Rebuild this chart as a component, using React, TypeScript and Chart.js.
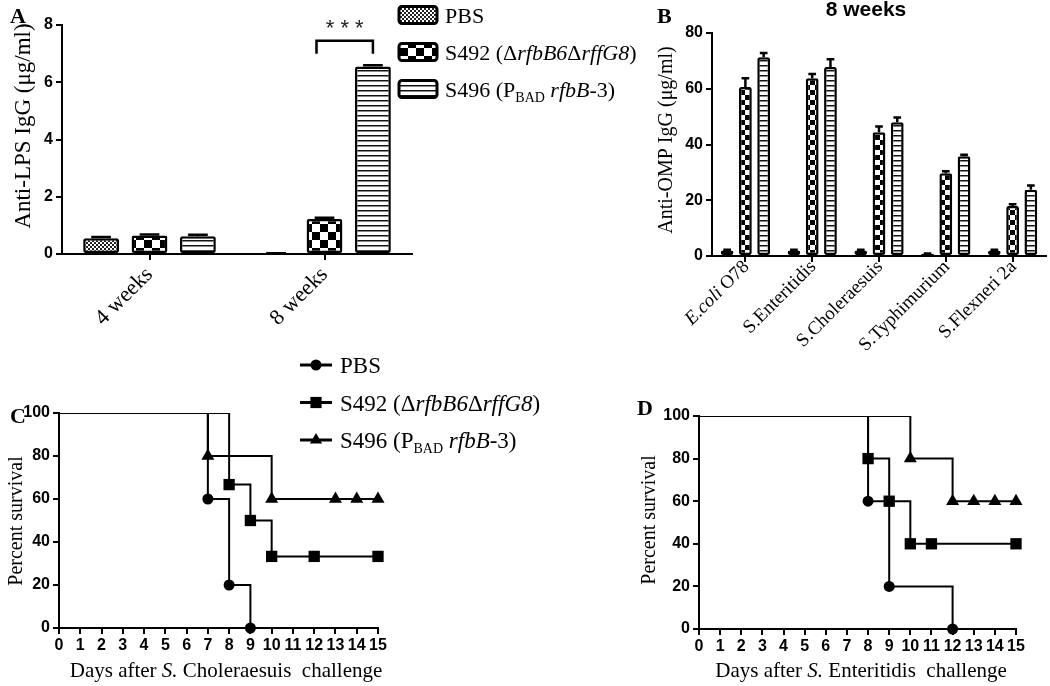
import React, { useEffect, useRef } from 'react';
import { Chart, registerables } from 'chart.js';
Chart.register(...registerables);

const SERIF = '"Liberation Serif", "Times New Roman", serif';
const SANS = '"Liberation Sans", Arial, sans-serif';

type Seg = { t: string; i?: boolean; sub?: boolean };

// ---------- Panel A: anti-LPS IgG ----------
const lpsCategories = ['4 weeks', '8 weeks'];
const lpsPBS = [0.55, 0.02];
const lpsS492 = [0.65, 1.22];
const lpsS496 = [0.62, 6.55];
const lpsPBSErr = [0.04, 0.01];
const lpsS492Err = [0.03, 0.05];
const lpsS496Err = [0.05, 0.04];
const lpsYTicks = { min: 0, max: 8, step: 2 };

// ---------- Panel B: anti-OMP IgG (8 weeks) ----------
const ompCategories = ['E.coli O78', 'S.Enteritidis', 'S.Choleraesuis', 'S.Typhimurium', 'S.Flexneri 2a'];
const ompPBS = [2, 2, 2, 0.8, 2];
const ompS492 = [60.6, 63.8, 44.4, 29.7, 17.9];
const ompS496 = [71.3, 67.8, 48.0, 35.8, 23.8];
const ompPBSErr = [0.2, 0.2, 0.2, 0.1, 0.2];
const ompS492Err = [3.2, 1.5, 2.1, 0.7, 0.7];
const ompS496Err = [1.5, 2.8, 1.7, 0.5, 1.5];
const ompYTicks = { min: 0, max: 80, step: 20 };

// ---------- Panel C: survival after S. Choleraesuis ----------
const cPbsDays = [0, 7, 8, 9];
const cPbsSurv = [100, 60, 20, 0];
const cS492Days = [0, 8, 9, 10, 12, 15];
const cS492Surv = [100, 66.7, 50, 33.3, 33.3, 33.3];
const cS496Days = [0, 7, 10, 13, 14, 15];
const cS496Surv = [100, 80, 60, 60, 60, 60];

// ---------- Panel D: survival after S. Enteritidis ----------
const dPbsDays = [0, 8, 9, 12];
const dPbsSurv = [100, 60, 20, 0];
const dS492Days = [0, 8, 9, 10, 11, 15];
const dS492Surv = [100, 80, 60, 40, 40, 40];
const dS496Days = [0, 10, 12, 13, 14, 15];
const dS496Surv = [100, 80, 60, 60, 60, 60];

const dayTicks = { min: 0, max: 15, step: 1 };
const survTicks = { min: 0, max: 100, step: 20 };

// ---------- Texts ----------
const legendSegs: Seg[][] = [
  [{ t: 'PBS' }],
  [{ t: 'S492 (Δ' }, { t: 'rfbB6', i: true }, { t: 'Δ' }, { t: 'rffG8', i: true }, { t: ')' }],
  [{ t: 'S496 (P' }, { t: 'BAD', sub: true }, { t: ' ' }, { t: 'rfbB', i: true }, { t: '-3)' }],
];
const seriesNames = ['PBS', 'S492 (ΔrfbB6ΔrffG8)', 'S496 (PBAD rfbB-3)'];
const lpsYTitle = 'Anti-LPS IgG (μg/ml)';
const ompYTitle = 'Anti-OMP IgG (μg/ml)';
const ompTitle = '8 weeks';
const survYTitle = 'Percent survival';
const cXTitle: Seg[] = [{ t: 'Days after ' }, { t: 'S.', i: true }, { t: ' Choleraesuis  challenge' }];
const dXTitle: Seg[] = [{ t: 'Days after ' }, { t: 'S.', i: true }, { t: ' Enteritidis  challenge' }];
const sigLabel = '* * *';

function labelSegs(label: string): Seg[] {
  if (label.startsWith('E.coli')) return [{ t: 'E.coli', i: true }, { t: label.slice(6) }];
  return [{ t: label }];
}

function drawRich(
  ctx: CanvasRenderingContext2D,
  segs: Seg[],
  x: number,
  y: number,
  size: number,
  align: 'left' | 'center' | 'right' = 'left',
  family = SERIF
) {
  const font = (s: Seg) => `${s.i ? 'italic ' : ''}${s.sub ? Math.round(size * 0.62) : size}px ${family}`;
  let w = 0;
  const widths = segs.map((s) => {
    ctx.font = font(s);
    const m = ctx.measureText(s.t).width;
    w += m;
    return m;
  });
  let cx = align === 'center' ? x - w / 2 : align === 'right' ? x - w : x;
  ctx.textAlign = 'left';
  ctx.textBaseline = 'alphabetic';
  ctx.fillStyle = '#000';
  segs.forEach((s, k) => {
    ctx.font = font(s);
    ctx.fillText(s.t, cx, s.sub ? y + size * 0.22 : y);
    cx += widths[k];
  });
}

function drawRotatedTitle(ctx: CanvasRenderingContext2D, text: string, cx: number, cy: number, size: number) {
  ctx.save();
  ctx.translate(cx, cy);
  ctx.rotate(-Math.PI / 2);
  drawRich(ctx, [{ t: text }], 0, size * 0.33, size, 'center');
  ctx.restore();
}

function drawLetter(ctx: CanvasRenderingContext2D, letter: string, x: number, baseline: number) {
  ctx.save();
  ctx.font = `bold 22px ${SERIF}`;
  ctx.fillStyle = '#000';
  ctx.textAlign = 'left';
  ctx.textBaseline = 'alphabetic';
  ctx.fillText(letter, x, baseline);
  ctx.restore();
}

function makePattern(ctx: CanvasRenderingContext2D, kind: string, s: number): CanvasPattern {
  const c = document.createElement('canvas');
  const g = c.getContext('2d')!;
  if (kind === 'fine') {
    c.width = 4;
    c.height = 4;
    g.fillStyle = '#fff';
    g.fillRect(0, 0, 4, 4);
    g.fillStyle = '#222';
    g.fillRect(0, 0, 2, 2);
    g.fillRect(2, 2, 2, 2);
  } else if (kind === 'check') {
    c.width = 2 * s;
    c.height = 2 * s;
    g.fillStyle = '#fff';
    g.fillRect(0, 0, 2 * s, 2 * s);
    g.fillStyle = '#000';
    g.fillRect(0, 0, s, s);
    g.fillRect(s, s, s, s);
  } else {
    c.width = 4;
    c.height = s;
    g.fillStyle = '#fff';
    g.fillRect(0, 0, 4, s);
    g.fillStyle = '#111';
    g.fillRect(0, 0, 4, 1);
    g.fillStyle = '#888';
    g.fillRect(0, 1, 4, 1);
  }
  return ctx.createPattern(c, 'repeat')!;
}

function drawErrors(chart: any, errs: number[][], capFrac: number) {
  const ctx: CanvasRenderingContext2D = chart.ctx;
  const y = chart.scales.y;
  ctx.save();
  ctx.strokeStyle = '#000';
  ctx.lineWidth = 2.5;
  errs.forEach((arr, di) => {
    const meta = chart.getDatasetMeta(di);
    meta.data.forEach((el: any, i: number) => {
      const v = chart.data.datasets[di].data[i] as number;
      const top = y.getPixelForValue(v + arr[i]);
      const w = el.width * capFrac;
      ctx.beginPath();
      ctx.moveTo(el.x, el.y);
      ctx.lineTo(el.x, top);
      ctx.moveTo(el.x - w / 2, top);
      ctx.lineTo(el.x + w / 2, top);
      ctx.stroke();
    });
  });
  ctx.restore();
}

const gridOpts = {
  display: true,
  drawOnChartArea: false,
  drawTicks: true,
  tickLength: 6,
  lineWidth: 2,
  color: '#000',
};
const borderOpts = { display: true, width: 2, color: '#000' };
const tickFont = { family: SANS, size: 16, weight: 'bold' as const };

function makeA(canvas: HTMLCanvasElement) {
  const ctx = canvas.getContext('2d')!;
  const patterns = [makePattern(ctx, 'fine', 0), makePattern(ctx, 'check', 8), makePattern(ctx, 'stripe', 5)];
  const vals = [lpsPBS, lpsS492, lpsS496];
  const errs = [lpsPBSErr, lpsS492Err, lpsS496Err];
  const plugin = {
    id: 'panelA',
    afterDatasetsDraw(chart: any) {
      drawErrors(chart, errs, 0.55);
    },
    afterDraw(chart: any) {
      const c: CanvasRenderingContext2D = chart.ctx;
      const y = chart.scales.y;
      drawLetter(c, 'A', 10, 23);
      drawRotatedTitle(c, lpsYTitle, 22, 126, 23);
      // significance bracket between S492 and S496 at 8 weeks
      const a = chart.getDatasetMeta(1).data[1];
      const b = chart.getDatasetMeta(2).data[1];
      const left = a.x - 8;
      const right = b.x;
      const top = y.getPixelForValue(7.45);
      const leg = y.getPixelForValue(7.0);
      c.save();
      c.strokeStyle = '#000';
      c.lineWidth = 2.5;
      c.beginPath();
      c.moveTo(left, leg);
      c.lineTo(left, top);
      c.lineTo(right, top);
      c.lineTo(right, leg);
      c.stroke();
      c.font = `22px ${SANS}`;
      c.fillStyle = '#222';
      c.textAlign = 'center';
      c.textBaseline = 'middle';
      c.fillText(sigLabel, (left + right) / 2, y.getPixelForValue(7.85));
      c.restore();
      // legend
      for (let k = 0; k < 3; k++) {
        const cy = 15 + k * 37;
        c.save();
        c.beginPath();
        (c as any).roundRect(399, cy - 8.5, 38, 17, 3);
        c.fillStyle = patterns[k];
        c.fill();
        c.lineWidth = 3;
        c.strokeStyle = '#000';
        c.stroke();
        c.restore();
        drawRich(c, legendSegs[k], 445, cy + 8, 22, 'left');
      }
    },
  };
  return new Chart(canvas, {
    type: 'bar',
    data: {
      labels: lpsCategories,
      datasets: vals.map((v, k) => ({
        label: seriesNames[k],
        data: v,
        backgroundColor: patterns[k],
        borderColor: '#000',
        borderWidth: 2.5,
        borderRadius: 2,
        borderSkipped: false,
        categoryPercentage: 0.83,
        barPercentage: 0.74,
      })),
    },
    options: {
      animation: false,
      responsive: false,
      devicePixelRatio: 1,
      layout: { padding: { left: 0, top: 25, right: 228, bottom: 0 } },
      plugins: { legend: { display: false }, tooltip: { enabled: false } },
      scales: {
        x: {
          grid: { ...gridOpts, offset: false },
          border: borderOpts,
          ticks: { font: { family: SERIF, size: 22 }, color: '#000', minRotation: 45, maxRotation: 45, padding: 2 },
          afterFit: (s: any) => {
            s.height = 86;
          },
        },
        y: {
          min: lpsYTicks.min,
          max: lpsYTicks.max,
          grid: gridOpts,
          border: borderOpts,
          ticks: { stepSize: lpsYTicks.step, font: tickFont, color: '#000', padding: 3 },
          afterFit: (s: any) => {
            s.width = 62;
          },
        },
      },
    } as any,
    plugins: [plugin],
  });
}

function makeB(canvas: HTMLCanvasElement) {
  const ctx = canvas.getContext('2d')!;
  const patterns = [makePattern(ctx, 'fine', 0), makePattern(ctx, 'check', 5), makePattern(ctx, 'stripe', 5)];
  const vals = [ompPBS, ompS492, ompS496];
  const errs = [ompPBSErr, ompS492Err, ompS496Err];
  const plugin = {
    id: 'panelB',
    afterDatasetsDraw(chart: any) {
      drawErrors(chart, errs, 0.6);
    },
    afterDraw(chart: any) {
      const c: CanvasRenderingContext2D = chart.ctx;
      drawLetter(c, 'B', 17, 23);
      c.save();
      c.font = `bold 21px ${SANS}`;
      c.fillStyle = '#000';
      c.textAlign = 'center';
      c.textBaseline = 'alphabetic';
      c.fillText(ompTitle, 226, 16);
      c.restore();
      drawRotatedTitle(c, ompYTitle, 25, 140, 20);
      const xs = chart.scales.x;
      ompCategories.forEach((lab, i) => {
        const x = xs.getPixelForValue(i);
        c.save();
        c.translate(x + 1, xs.top + 8);
        c.rotate(-Math.PI / 4);
        drawRich(c, labelSegs(lab), 0, 5, 19, 'right');
        c.restore();
      });
    },
  };
  return new Chart(canvas, {
    type: 'bar',
    data: {
      labels: ompCategories,
      datasets: vals.map((v, k) => ({
        label: seriesNames[k],
        data: v,
        backgroundColor: patterns[k],
        borderColor: '#000',
        borderWidth: 2.5,
        borderRadius: 2,
        borderSkipped: false,
        categoryPercentage: 0.82,
        barPercentage: 0.7,
      })),
    },
    options: {
      animation: false,
      responsive: false,
      devicePixelRatio: 1,
      layout: { padding: { left: 0, top: 33, right: 4, bottom: 0 } },
      plugins: { legend: { display: false }, tooltip: { enabled: false } },
      scales: {
        x: {
          grid: { ...gridOpts, offset: false },
          border: borderOpts,
          ticks: { display: false },
          afterFit: (s: any) => {
            s.height = 94;
          },
        },
        y: {
          min: ompYTicks.min,
          max: ompYTicks.max,
          grid: gridOpts,
          border: borderOpts,
          ticks: { stepSize: ompYTicks.step, font: tickFont, color: '#000', padding: 3 },
          afterFit: (s: any) => {
            s.width = 72;
          },
        },
      },
    } as any,
    plugins: [plugin],
  });
}

const pointStyles = ['circle', 'rect', 'triangle'];
const pointRadii = [5.5, 8, 7.5];

function drawMarker(c: CanvasRenderingContext2D, k: number, x: number, y: number) {
  c.beginPath();
  if (k === 0) c.arc(x, y, 5.5, 0, Math.PI * 2);
  else if (k === 1) c.rect(x - 5.6, y - 5.6, 11.2, 11.2);
  else {
    c.moveTo(x, y - 7);
    c.lineTo(x - 6.1, y + 3.5);
    c.lineTo(x + 6.1, y + 3.5);
    c.closePath();
  }
  c.fillStyle = '#000';
  c.fill();
}

function makeSurvival(
  canvas: HTMLCanvasElement,
  series: { days: number[]; surv: number[] }[],
  opts: {
    letter: string;
    letterX: number;
    letterY: number;
    yTitleX: number;
    yTitleY: number;
    xTitle: Seg[];
    xTitleX: number;
    xTitleY: number;
    legend: boolean;
    yWidth: number;
    top: number;
    right: number;
    xHeight: number;
  }
) {
  const plugin = {
    id: 'survival' + opts.letter,
    afterDraw(chart: any) {
      const c: CanvasRenderingContext2D = chart.ctx;
      drawLetter(c, opts.letter, opts.letterX, opts.letterY);
      drawRotatedTitle(c, survYTitle, opts.yTitleX, opts.yTitleY, 20);
      drawRich(c, opts.xTitle, opts.xTitleX, opts.xTitleY, 21, 'center');
      if (opts.legend) {
        for (let k = 0; k < 3; k++) {
          const cy = 25 + k * 37.5;
          c.save();
          c.strokeStyle = '#000';
          c.lineWidth = 3;
          c.beginPath();
          c.moveTo(300, cy);
          c.lineTo(332, cy);
          c.stroke();
          drawMarker(c, k, 316, cy);
          c.restore();
          drawRich(c, legendSegs[k], 340, cy + 8, 23, 'left');
        }
      }
    },
  };
  return new Chart(canvas, {
    type: 'line',
    data: {
      datasets: series.map((s, k) => ({
        label: seriesNames[k],
        data: s.days.map((d, i) => ({ x: d, y: s.surv[i] })),
        stepped: true,
        borderColor: '#000',
        backgroundColor: '#000',
        borderWidth: 2,
        fill: false,
        pointStyle: pointStyles[k],
        pointRadius: (ctx: any) => (ctx.dataIndex === 0 ? 0 : pointRadii[k]),
        pointBorderWidth: 0,
        pointBackgroundColor: '#000',
        clip: { left: 10, top: 0, right: 10, bottom: 10 },
      })),
    },
    options: {
      animation: false,
      responsive: false,
      devicePixelRatio: 1,
      layout: { padding: { left: 0, top: opts.top, right: opts.right, bottom: 0 } },
      plugins: { legend: { display: false }, tooltip: { enabled: false } },
      scales: {
        x: {
          type: 'linear',
          min: dayTicks.min,
          max: dayTicks.max,
          grid: gridOpts,
          border: borderOpts,
          ticks: { stepSize: dayTicks.step, autoSkip: false, font: tickFont, color: '#000', padding: 2, maxRotation: 0 },
          afterFit: (s: any) => {
            s.height = opts.xHeight;
          },
        },
        y: {
          min: survTicks.min,
          max: survTicks.max,
          grid: gridOpts,
          border: borderOpts,
          ticks: { stepSize: survTicks.step, font: tickFont, color: '#000', padding: 3 },
          afterFit: (s: any) => {
            s.width = opts.yWidth;
          },
        },
      },
    } as any,
    plugins: [plugin],
  });
}

export default function App() {
  const refA = useRef<HTMLCanvasElement>(null);
  const refB = useRef<HTMLCanvasElement>(null);
  const refC = useRef<HTMLCanvasElement>(null);
  const refD = useRef<HTMLCanvasElement>(null);

  useEffect(() => {
    const charts: Chart[] = [];
    charts.push(makeA(refA.current!));
    charts.push(makeB(refB.current!));
    charts.push(
      makeSurvival(
        refC.current!,
        [
          { days: cPbsDays, surv: cPbsSurv },
          { days: cS492Days, surv: cS492Surv },
          { days: cS496Days, surv: cS496Surv },
        ],
        {
          letter: 'C',
          letterX: 10,
          letterY: 83,
          yTitleX: 15,
          yTitleY: 181,
          xTitle: cXTitle,
          xTitleX: 226,
          xTitleY: 337,
          legend: true,
          yWidth: 59,
          top: 73,
          right: 222,
          xHeight: 58,
        }
      )
    );
    charts.push(
      makeSurvival(
        refD.current!,
        [
          { days: dPbsDays, surv: dPbsSurv },
          { days: dS492Days, surv: dS492Surv },
          { days: dS496Days, surv: dS496Surv },
        ],
        {
          letter: 'D',
          letterX: 37,
          letterY: 75,
          yTitleX: 48,
          yTitleY: 180,
          xTitle: dXTitle,
          xTitleX: 261,
          xTitleY: 337,
          legend: false,
          yWidth: 99,
          top: 76,
          right: 34,
          xHeight: 57,
        }
      )
    );
    return () => charts.forEach((c) => c.destroy());
  }, []);

  return (
    <div
      style={{
        position: 'absolute',
        left: 0,
        top: 0,
        width: 1050,
        height: 686,
        background: '#fff',
        overflow: 'hidden',
      }}
    >
      <canvas ref={refA} width={640} height={340} style={{ position: 'absolute', left: 0, top: 0 }} />
      <canvas ref={refB} width={410} height={350} style={{ position: 'absolute', left: 640, top: 0 }} />
      <canvas ref={refC} width={600} height={346} style={{ position: 'absolute', left: 0, top: 340 }} />
      <canvas ref={refD} width={450} height={346} style={{ position: 'absolute', left: 600, top: 340 }} />
    </div>
  );
}
